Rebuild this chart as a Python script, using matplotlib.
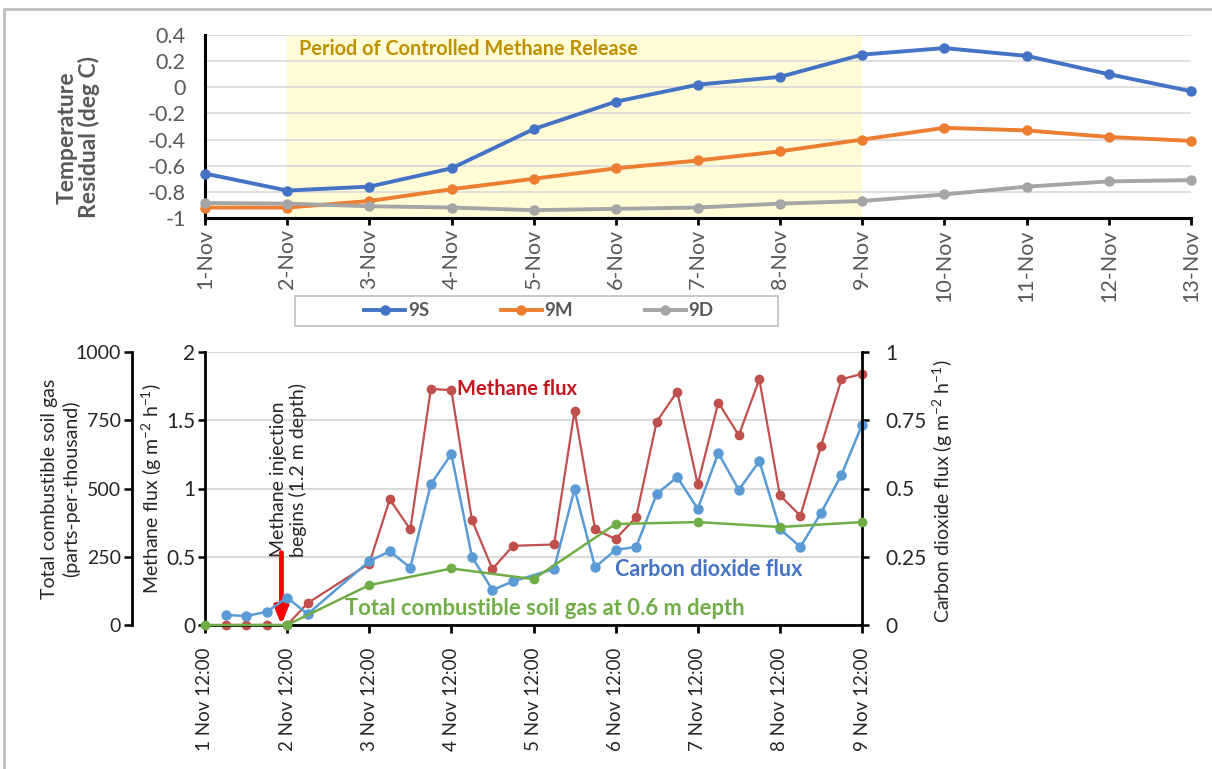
import numpy as np
import matplotlib
matplotlib.use("Agg")
import matplotlib.pyplot as plt
from matplotlib.lines import Line2D
from matplotlib.patches import Rectangle

plt.rcParams['font.family'] = ['Lato', 'DejaVu Sans']
plt.rcParams['mathtext.fontset'] = 'custom'
plt.rcParams['mathtext.rm'] = 'Lato'
plt.rcParams['mathtext.it'] = 'Lato:italic'
plt.rcParams['mathtext.bf'] = 'Lato:bold'

# ---------------- data: temperature residuals (daily) ----------------
temp_dates = ['1-Nov', '2-Nov', '3-Nov', '4-Nov', '5-Nov', '6-Nov', '7-Nov',
              '8-Nov', '9-Nov', '10-Nov', '11-Nov', '12-Nov', '13-Nov']
temp_9s = [-0.66, -0.79, -0.76, -0.62, -0.32, -0.11, 0.02, 0.08, 0.25, 0.30, 0.24, 0.10, -0.03]
temp_9m = [-0.92, -0.92, -0.87, -0.78, -0.70, -0.62, -0.56, -0.49, -0.40, -0.31, -0.33, -0.38, -0.41]
temp_9d = [-0.885, -0.89, -0.91, -0.92, -0.94, -0.93, -0.92, -0.89, -0.87, -0.82, -0.76, -0.72, -0.71]
release_start, release_end = 1, 8          # 2-Nov .. 9-Nov (index)

# ---------------- data: surface fluxes (days after 1 Nov 12:00) ----------------
flux_days = [0.25, 0.5, 0.75, 1.0, 1.25, 2.0, 2.25, 2.5, 2.75, 3.0, 3.25, 3.5, 3.75,
             4.25, 4.5, 4.75, 5.0, 5.25, 5.5, 5.75, 6.0, 6.25, 6.5, 6.75, 7.0,
             7.25, 7.5, 7.75, 8.0]
methane_flux = [0, 0, 0, 0, 0.16, 0.45, 0.92, 0.70, 1.73, 1.72, 0.77, 0.41, 0.58,
                0.59, 1.57, 0.70, 0.63, 0.79, 1.49, 1.71, 1.03, 1.63, 1.39, 1.80, 0.95,
                0.80, 1.31, 1.80, 1.84]
co2_flux = [0.037, 0.033, 0.048, 0.10, 0.040, 0.234, 0.27, 0.21, 0.516, 0.626, 0.25, 0.128, 0.16,
            0.205, 0.498, 0.212, 0.275, 0.286, 0.48, 0.542, 0.425, 0.63, 0.495, 0.60, 0.352,
            0.286, 0.41, 0.55, 0.733]
soil_gas_days = [0, 1, 2, 3, 4, 5, 6, 7, 8]
soil_gas_ppt = [0, 0, 146, 207, 168, 370, 377, 359, 377]
flux_tick_labels = ['1 Nov 12:00', '2 Nov 12:00', '3 Nov 12:00', '4 Nov 12:00', '5 Nov 12:00',
                    '6 Nov 12:00', '7 Nov 12:00', '8 Nov 12:00', '9 Nov 12:00']
injection_day = 0.93

W, H = 1212, 769
DPI = 100
fig = plt.figure(figsize=(W / DPI, H / DPI), dpi=DPI)


def box(x0, y0, x1, y1):
    return [x0 / W, 1 - y1 / H, (x1 - x0) / W, (y1 - y0) / H]


def fmt(v):
    v = round(v, 2)
    return '0' if abs(v) < 1e-9 else f'{v:g}'


# page frame
fig.add_artist(Line2D([4 / W, 4 / W, 1], [0, 1 - 9 / H, 1 - 9 / H],
                      transform=fig.transFigure, color='#BFBFBF', lw=2))

GRID = '#D9D9D9'
TICKGREY = '#595959'

# ================= top panel =================
ax_t = fig.add_axes(box(205, 35, 1191, 218))
x_t = np.arange(len(temp_dates))
ax_t.axvspan(release_start, release_end, color='#FFFCD6', zorder=0, lw=0)
ax_t.set_xlim(0, len(temp_dates) - 1)
ax_t.set_ylim(-1, 0.4)
yt = np.round(np.arange(-1, 0.41, 0.2), 2)
ax_t.set_yticks(yt)
ax_t.set_yticklabels([fmt(v) for v in yt])
ax_t.yaxis.grid(True, color=GRID, lw=1.2, zorder=0.5)
ax_t.set_axisbelow(True)
ax_t.set_xticks(x_t)
ax_t.set_xticklabels(temp_dates, rotation=90)
ax_t.tick_params(axis='y', length=0, pad=14, labelsize=15.5, labelcolor=TICKGREY)
ax_t.tick_params(axis='x', length=5, width=2, pad=3, labelsize=15.5, labelcolor=TICKGREY,
                 color='black')
for s in ('top', 'right'):
    ax_t.spines[s].set_visible(False)
for s in ('left', 'bottom'):
    ax_t.spines[s].set_color('black')
    ax_t.spines[s].set_linewidth(2.2)

series = [('9S', temp_9s, '#4472C4'), ('9M', temp_9m, '#ED7D31'), ('9D', temp_9d, '#A5A5A5')]
handles = []
for name, vals, col in series:
    h, = ax_t.plot(x_t, vals, color=col, lw=2.8, marker='o', ms=6.5, clip_on=False,
                   zorder=3, label=name)
    handles.append(h)

ax_t.text(release_start + 0.15, 0.29, 'Period of Controlled Methane Release',
          color='#BF9000', fontsize=14.3, fontweight='bold', va='center', ha='left')
ax_t.set_ylabel('Temperature\nResidual (deg C)', fontsize=16.5, fontweight='bold',
                color=TICKGREY, linespacing=1.05)
ax_t.yaxis.set_label_coords(-0.106, 0.44)

# legend box
fig.add_artist(Rectangle((295 / W, 1 - 326 / H), 483 / W, 30 / H, transform=fig.transFigure,
                         fill=False, edgecolor='#BFBFBF', lw=1.2))
fig.legend(handles, [s[0] for s in series], loc='center', bbox_to_anchor=(539 / W, 1 - 311 / H),
           ncol=3, frameon=False, handlelength=2.2, handletextpad=0.15, columnspacing=3.8,
           prop={'weight': 'bold', 'size': 13.5}, labelcolor=TICKGREY, numpoints=1)

# ================= bottom panel =================
ax_b = fig.add_axes(box(205, 352, 862, 625))
ax_co2 = ax_b.twinx()
ax_tcg = ax_b.twinx()

ax_b.set_xlim(0, len(flux_tick_labels) - 1)
ax_b.set_ylim(0, 2)
ax_co2.set_ylim(0, 1)
ax_tcg.set_ylim(0, 1000)

ax_b.set_yticks([0, 0.5, 1, 1.5, 2])
ax_b.set_yticklabels(['0', '0.5', '1', '1.5', '2'])
ax_co2.set_yticks([0, 0.25, 0.5, 0.75, 1])
ax_co2.set_yticklabels(['0', '0.25', '0.5', '0.75', '1'])
ax_tcg.set_yticks([0, 250, 500, 750, 1000])
ax_tcg.set_yticklabels(['0', '250', '500', '750', '1000'])
ax_b.yaxis.grid(True, color=GRID, lw=1.5)
ax_b.set_axisbelow(True)

ax_b.set_xticks(np.arange(len(flux_tick_labels)))
ax_b.set_xticklabels(flux_tick_labels, rotation=90)

LAB = '#262626'
ax_b.tick_params(axis='x', length=6, width=2, pad=10, labelsize=13.5, labelcolor=LAB)
ax_b.tick_params(axis='y', length=5, width=1.8, pad=2, labelsize=15, labelcolor=LAB)
ax_co2.tick_params(axis='y', length=5, width=1.8, pad=12, labelsize=15, labelcolor=LAB)

# outer soil-gas axis sits 73 px left of the methane axis (offset given in points)
ax_tcg.spines['left'].set_position(('outward', 73 * 72 / DPI))
ax_tcg.spines['left'].set_visible(True)
ax_tcg.yaxis.set_ticks_position('left')
ax_tcg.yaxis.set_label_position('left')
ax_tcg.tick_params(axis='y', length=6, width=1.8, pad=2, labelsize=14, labelcolor=LAB)

for a in (ax_b, ax_co2, ax_tcg):
    for s in a.spines.values():
        s.set_visible(False)
for a, s in ((ax_b, 'left'), (ax_b, 'bottom'), (ax_co2, 'right'), (ax_tcg, 'left')):
    a.spines[s].set_visible(True)
    a.spines[s].set_color('black')
    a.spines[s].set_linewidth(2)

ax_b.plot(flux_days, methane_flux, color='#C0504D', lw=1.6, marker='o', ms=6, clip_on=False)
ax_co2.plot(flux_days, co2_flux, color='#5B9BD5', lw=1.8, marker='o', ms=6.5, clip_on=False)
ax_tcg.plot(soil_gas_days, soil_gas_ppt, color='#70AD47', lw=1.8, marker='o', ms=6, clip_on=False)

ax_tcg.set_ylabel('Total combustible soil gas\n(parts-per-thousand)', fontsize=14, color=LAB,
                  linespacing=1.3)
ax_tcg.yaxis.set_label_coords(-0.19, 0.50)
ax_b.set_ylabel('Methane flux (g m$^{-2}$ h$^{-1}$)', fontsize=14, color=LAB)
ax_b.yaxis.set_label_coords(-0.063, 0.50)
ax_co2.set_ylabel('Carbon dioxide flux (g m$^{-2}$ h$^{-1}$)', fontsize=14, color=LAB)
ax_co2.yaxis.set_label_coords(1.104, 0.49)

ax_b.text(3.07, 1.73, 'Methane flux', color='#C4161C', fontsize=14.5, fontweight='bold',
          ha='left', va='center')
ax_b.text(4.99, 0.41, 'Carbon dioxide flux', color='#4472C4', fontsize=15.5, fontweight='bold',
          ha='left', va='center')
ax_b.text(1.71, 0.12, 'Total combustible soil gas at 0.6 m depth', color='#70AD47',
          fontsize=15.8, fontweight='bold', ha='left', va='center')

ax_b.text(1.02, 0.50, 'Methane injection\nbegins (1.2 m depth)', rotation=90, ha='center',
          va='bottom', multialignment='left', fontsize=14, color=LAB, linespacing=1.1)
ax_b.annotate('', xy=(injection_day, 0), xytext=(injection_day, 0.53),
              arrowprops=dict(arrowstyle='-|>,head_width=0.4,head_length=1.0', color='#FF0000',
                              lw=3.5, shrinkA=0, shrinkB=0), zorder=6)

fig.savefig('out.png', dpi=DPI)
